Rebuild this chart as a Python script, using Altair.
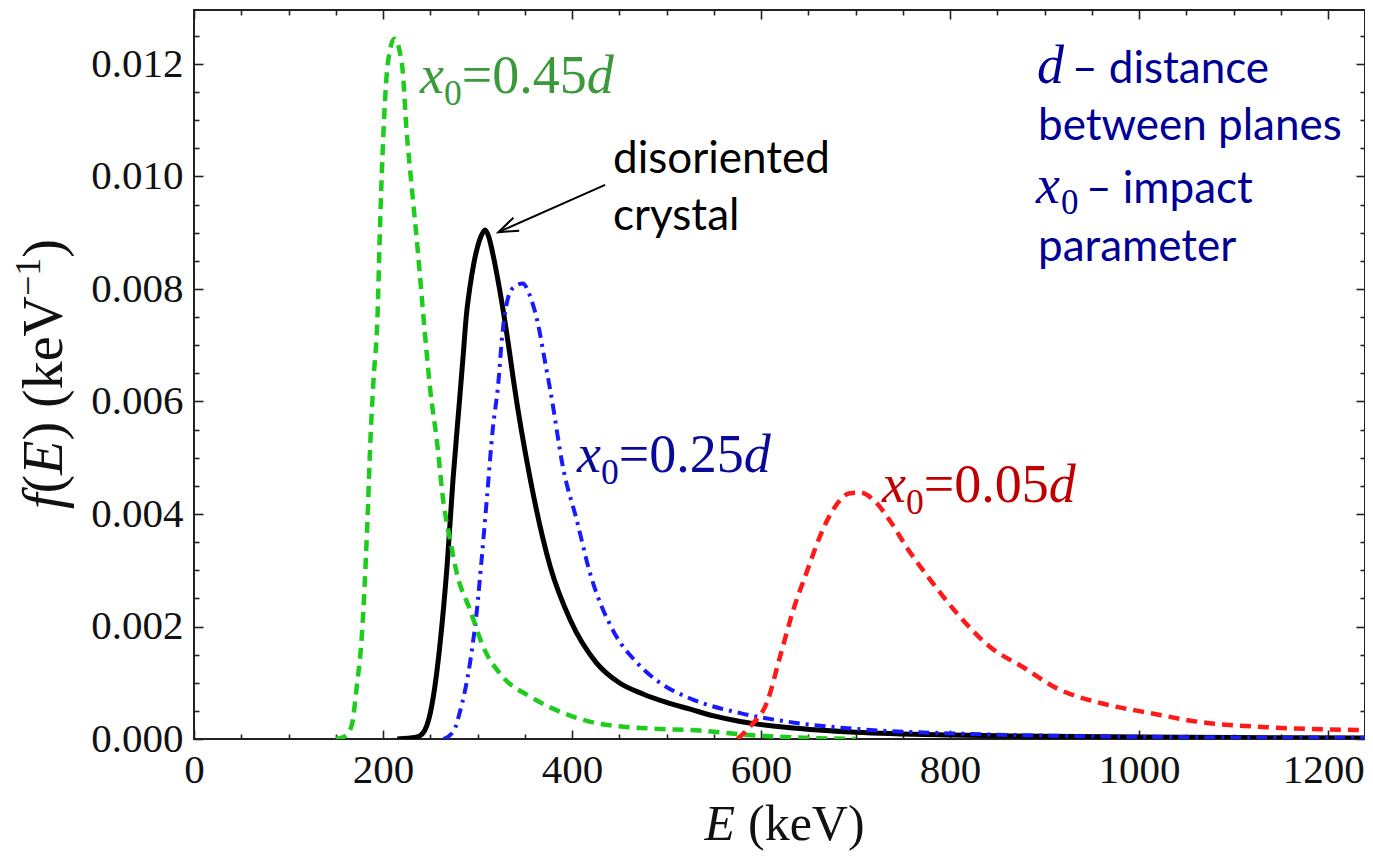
import altair as alt
import pandas as pd

# ---------------- data (f in units of 1e-3 keV^-1) ----------------
E_black = [215, 235, 242, 250, 255, 260, 268, 274, 281, 285, 288, 292, 296, 300, 304, 308, 312, 316, 324, 334,
           338, 356, 377, 398, 426, 450, 475, 500, 525, 550, 578, 631, 700, 800, 900, 1000, 1100, 1239]
f_black = [0, 0.03, 0.1, 0.46, 0.95, 1.64, 3.13, 4.6, 6.03, 6.86, 7.5, 8.04, 8.45, 8.75, 8.95, 9.05, 8.92, 8.64,
           7.93, 6.86, 6.38, 4.6, 3.06, 2.12, 1.35, 1.0, 0.8, 0.65, 0.53, 0.41, 0.31, 0.2, 0.12, 0.07, 0.05, 0.035,
           0.025, 0.02]

E_green = [150, 160, 167, 172, 178, 183, 187, 190, 194, 197, 200, 205, 212, 220, 225, 231, 237, 244, 250, 257,
           264, 271, 278, 292, 306, 327, 356, 391, 426, 479, 535, 588, 650, 700]
f_green = [0, 0.05, 0.25, 0.9, 1.94, 3.66, 5.44, 6.4, 7.45, 9.2, 10.6, 12.0, 12.45, 12.0, 10.8, 9.7, 8.64, 7.27,
           6.2, 5.3, 4.2, 3.54, 2.95, 2.3, 1.64, 1.1, 0.75, 0.46, 0.28, 0.19, 0.15, 0.07, 0.02, 0.0]

E_blue = [264, 275, 281, 292, 299, 304, 310, 316, 322, 326, 334, 340, 348, 355, 363, 373, 377, 391, 405, 419,
          443, 469, 493, 525, 578, 631, 700, 800, 900, 1000, 1239]
f_blue = [0, 0.15, 0.46, 1.35, 2.24, 3.13, 4.3, 5.49, 6.33, 7.15, 7.93, 8.05, 8.1, 7.9, 7.45, 6.56, 6.2, 4.78,
          3.89, 2.95, 1.94, 1.35, 1.0, 0.72, 0.46, 0.3, 0.18, 0.1, 0.06, 0.04, 0.02]

E_red = [575, 590, 606, 620, 634, 649, 662, 676, 694, 705, 719, 736, 754, 779, 807, 842, 877, 913, 959, 1012,
         1065, 1135, 1239]
f_red = [0, 0.25, 0.64, 1.46, 2.29, 3.0, 3.59, 4.07, 4.37, 4.38, 4.25, 3.89, 3.41, 2.83, 2.24, 1.64, 1.28, 0.90,
         0.64, 0.46, 0.30, 0.21, 0.16]

arrow_E = [435, 322]
arrow_f = [0.00985, 0.00901]

x_major = [0, 200, 400, 600, 800, 1000, 1200]
x_minor = [v for v in range(0, 1240, 50) if v % 200]
y_major = [0.0, 0.002, 0.004, 0.006, 0.008, 0.010, 0.012]
y_minor = [round(0.0005 * k, 4) for k in range(26) if k % 4]

E_MAX = 1239
F_MAX = 0.01296

# ---------------- layout ----------------
PL, PT = 194, 10          # plot-area origin in page pixels
W, H = 1171, 729

SERIF = "Liberation Serif"
SANS = "Lato"
NAVY = "#000096"


def df(E, f, scale=1e-3):
    return pd.DataFrame({"E": E, "f": [v * scale for v in f]})


xs = alt.Scale(domain=[0, E_MAX], nice=False, zero=False)
ys = alt.Scale(domain=[0, F_MAX], nice=False, zero=False)


def axis(values, orient, size, labels=False, fmt=None, pad=0, **extra):
    kw = dict(values=values, orient=orient, grid=False, domain=False, ticks=True,
              tickSize={"expr": str(-size)}, tickColor="#222", tickWidth=1.6,
              labels=labels, title=None, labelFlush=False)
    if labels:
        kw.update(labelFont=SERIF, labelFontSize=41, labelColor="#111", labelPadding=pad)
    if fmt:
        kw["format"] = fmt
    kw.update(extra)
    return alt.Axis(**kw)


def series(data, color, width, dash, xaxis, yaxis):
    kw = dict(color=color, strokeWidth=width, interpolate="monotone", clip=True)
    if dash:
        kw["strokeDash"] = dash
    return alt.Chart(data).mark_line(**kw).encode(
        x=alt.X("E:Q", scale=xs, axis=xaxis),
        y=alt.Y("f:Q", scale=ys, axis=yaxis),
    )


black = series(df(E_black, f_black), "#000000", 5, None,
               axis(x_major, "bottom", 9, True, "d", pad=20,
                    labelOffset={"condition": {"test": "datum.value == 1200", "value": -5}, "value": 0}),
               axis(y_major, "left", 9, True, ".3f", 20))
blue = series(df(E_blue, f_blue), "#1a1aff", 4, [11, 6, 3, 6],
              axis(x_minor, "bottom", 5), axis(y_minor, "left", 5))
green = series(df(E_green, f_green), "#1ecc1e", 4.5, [11, 7],
               axis(x_major, "top", 9), axis(y_major, "right", 9))
red = series(df(E_red, f_red), "#ff1a1a", 4.5, [11, 7],
             axis(x_minor, "top", 5), axis(y_minor, "right", 5))

arrow_df = pd.DataFrame({"E": arrow_E, "f": arrow_f})
arrow_line = alt.Chart(arrow_df).mark_line(color="black", strokeWidth=2).encode(
    x=alt.X("E:Q", scale=xs, axis=None), y=alt.Y("f:Q", scale=ys, axis=None))
arrow_head = alt.Chart(arrow_df.iloc[[1]]).mark_point(
    shape="M 1 -0.36 L 0 0 L 1 0.36", filled=False, size=1550, angle=336,
    color="black", strokeWidth=2, opacity=1).encode(
    x=alt.X("E:Q", scale=xs, axis=None), y=alt.Y("f:Q", scale=ys, axis=None))


def piece(text, px, py, size, color, font, italic=False, angle=0, align="left"):
    return alt.Chart(pd.DataFrame({"t": [text]})).mark_text(
        font=font, fontSize=size, fontStyle="italic" if italic else "normal",
        color=color, align=align, baseline="alphabetic", angle=angle,
    ).encode(x=alt.value(px - PL), y=alt.value(py - PT), text="t:N")


def x0_label(val, px, py, color, S=54):
    s = 0.66 * S
    x1 = px + 0.444 * S
    x2 = x1 + 0.5 * s
    x3 = x2 + 2.314 * S
    return [piece("x", px, py, S, color, SERIF, True),
            piece("0", x1, py + 0.22 * S, s, color, SERIF),
            piece("=" + val, x2, py, S, color, SERIF),
            piece("d", x3, py, S, color, SERIF, True)]


texts = []
texts += x0_label("0.45", 420, 93, "#3a9a3a")
texts += x0_label("0.25", 577, 472, "#0a0a9a")
texts += x0_label("0.05", 882, 502, "#c00000")

texts += [piece("disoriented", 613, 173, 44, "black", SANS),
          piece("crystal", 613, 230, 44, "black", SANS)]

texts += [piece("d", 1037, 83, 54, NAVY, SERIF, True),
          piece("– distance", 1072, 83, 44, NAVY, SANS),
          piece("between planes", 1038, 140, 44, NAVY, SANS),
          piece("x", 1036, 203, 54, NAVY, SERIF, True),
          piece("0", 1061, 214, 35, NAVY, SERIF),
          piece("– impact", 1086, 203, 44, NAVY, SANS),
          piece("parameter", 1038, 261, 44, NAVY, SANS)]

# x-axis title: E (keV)
texts += [piece("E", 735, 840, 50, "#111", SERIF, True, align="right"),
          piece("(keV)", 748, 840, 50, "#111", SERIF)]

# y-axis title: f(E) (keV^-1), rotated
S = 56
yb = 62
y0 = 509
yt = [("f", True, S, 0.278), ("(", False, S, 0.333), ("E", True, S, 0.611),
      (") (keV", False, S, 2.582)]
cur = y0
for t, it, sz, adv in yt:
    texts.append(piece(t, yb, cur, sz, "#111", SERIF, it, angle=270))
    cur -= adv * sz
texts.append(piece("−1", yb - 22, cur, 36, "#111", SERIF, angle=270))
cur -= 1.064 * 36
texts.append(piece(")", yb, cur, S, "#111", SERIF, angle=270))

chart = alt.layer(black, blue, green, red, arrow_line, arrow_head, *texts).resolve_axis(
    x="independent", y="independent"
).properties(
    width=W, height=H,
    autosize=alt.AutoSizeParams(type="none"),
    padding={"left": PL - 8, "top": PT - 8, "right": 0, "bottom": 859 - 16 - (PT - 8) - H},
    background="white",
).configure_view(stroke="#222", strokeWidth=2)

chart.save("out.html", embed_options={"renderer": "svg", "actions": False})
